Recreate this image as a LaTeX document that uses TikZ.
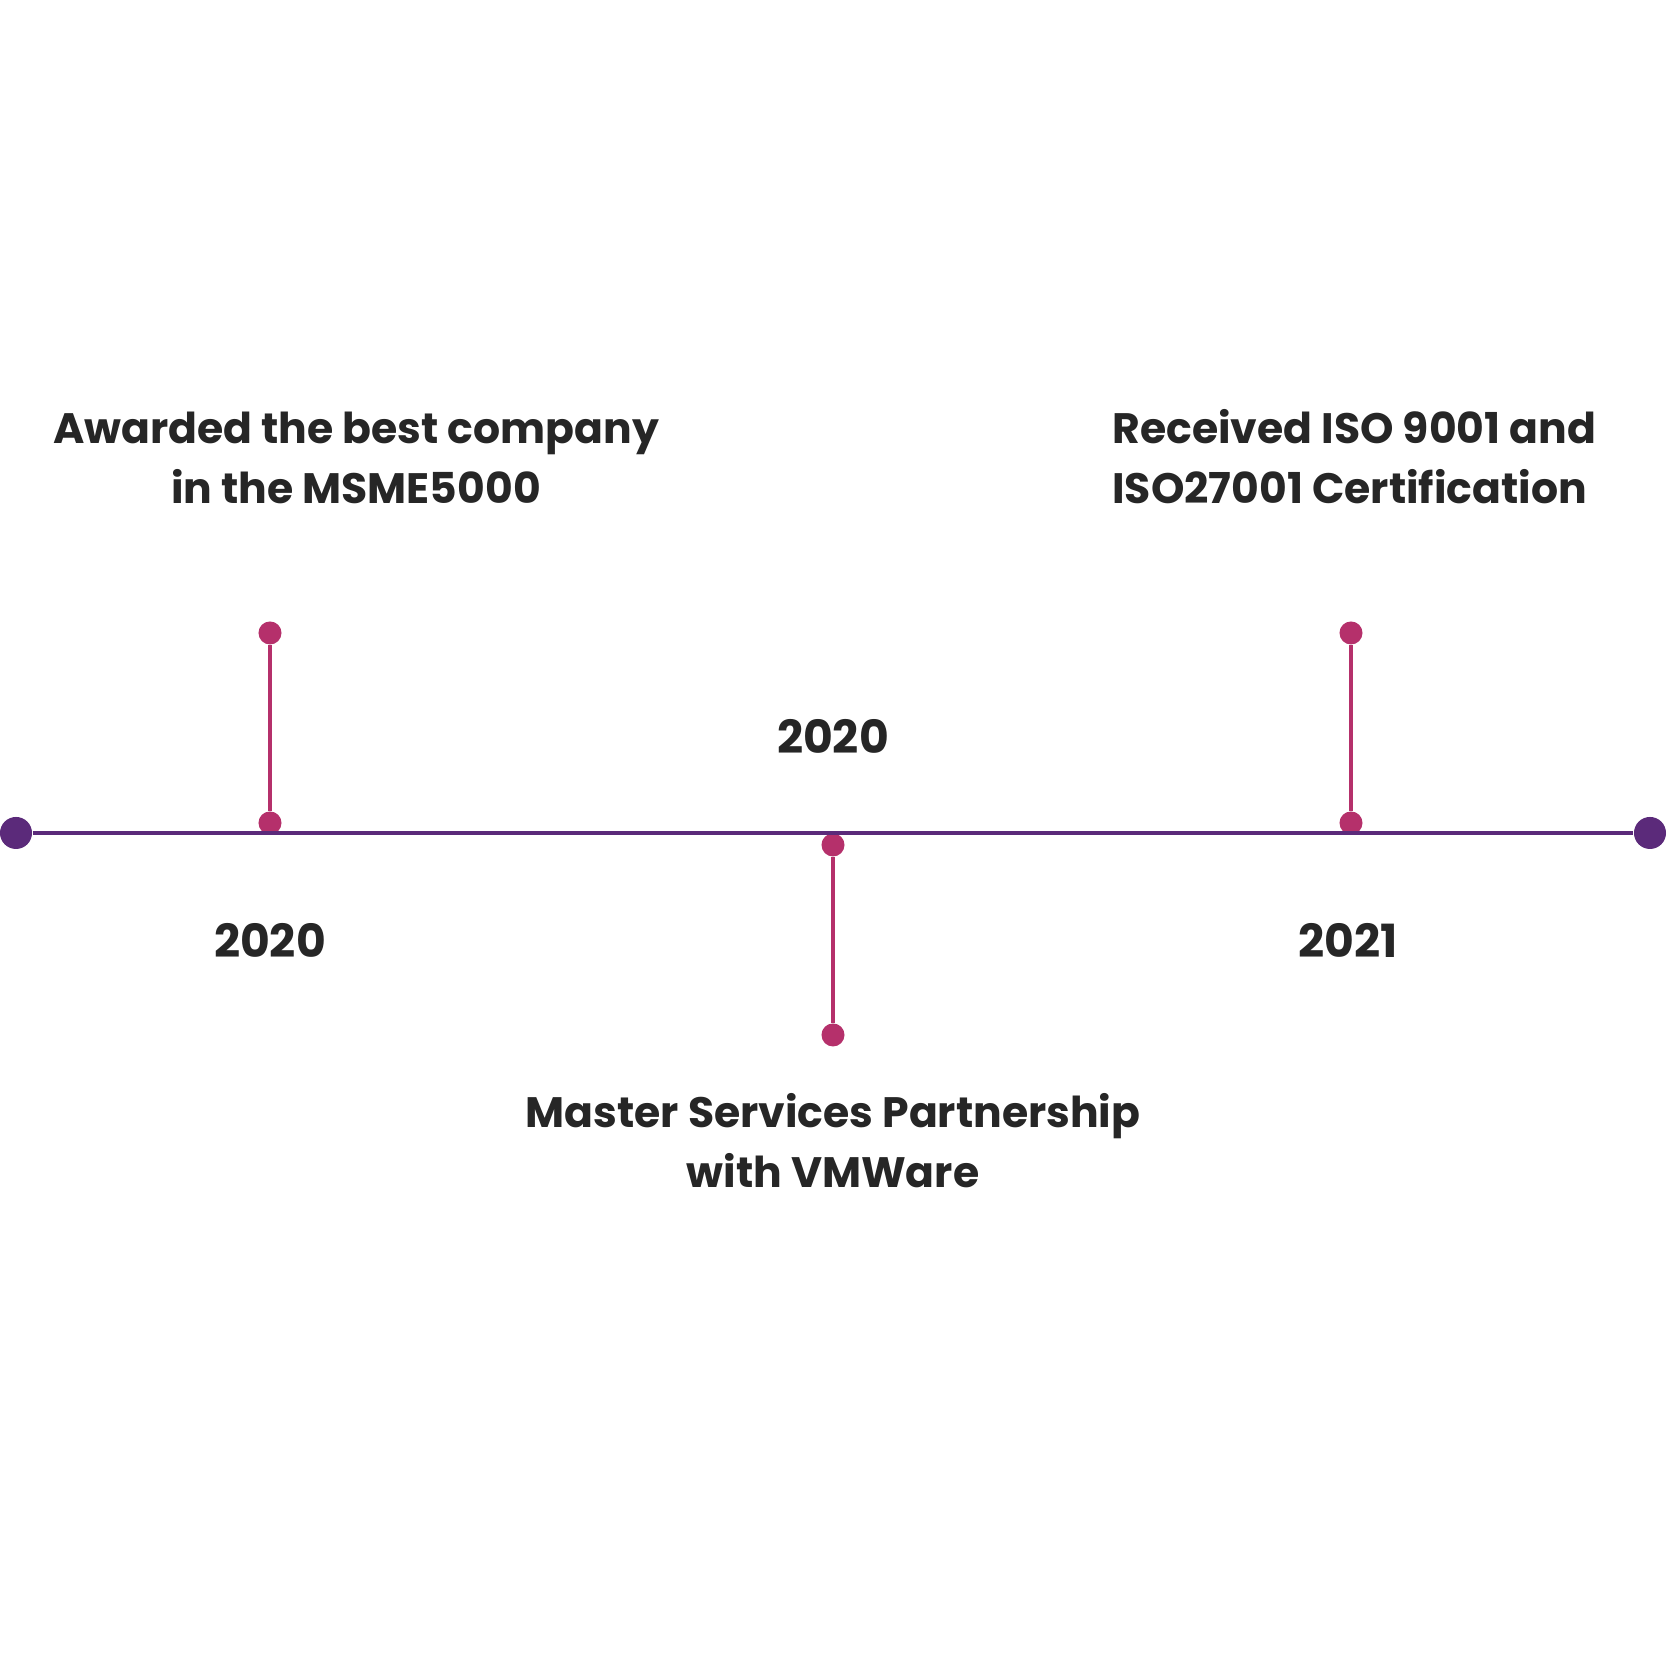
\documentclass[tikz,border=0pt]{standalone}
\usepackage{fontspec}
\setmainfont{Poppins}
\definecolor{linepurple}{HTML}{5B2A7A}
\definecolor{stempink}{HTML}{B5306B}
\definecolor{textgrey}{HTML}{262626}
\begin{document}
\begin{tikzpicture}[x=0.01cm, y=0.01cm,
  enddot/.style={circle, fill=linepurple, inner sep=0pt, minimum size=0.32cm},
  pinkdot/.style={circle, fill=stempink, inner sep=0pt, minimum size=0.23cm},
  stem/.style={stempink, line width=0.9pt},
  axis/.style={linepurple, line width=1.15pt},
  every node/.style={text=textgrey, font=\bfseries\fontsize{12.1}{17}\selectfont},
  year/.style={font=\bfseries\fontsize{13}{17}\selectfont}]
  \useasboundingbox[fill=white] (0,0) rectangle (1668,1667);
  % dots
  \node[enddot] (start) at (16,834) {};
  \node[enddot] (finish) at (1650,834) {};
  \node[pinkdot] (a1) at (270,1034) {};
  \node[pinkdot] (a2) at (270,844) {};
  \node[pinkdot] (b1) at (833,822) {};
  \node[pinkdot] (b2) at (833,632) {};
  \node[pinkdot] (c1) at (1351,1034) {};
  \node[pinkdot] (c2) at (1351,844) {};
  % stems and axis
  \draw[stem] (a1) -- (a2);
  \draw[stem] (b1) -- (b2);
  \draw[stem] (c1) -- (c2);
  \draw[axis] (start) -- (finish);
  % labels
  \node[align=center] (award) at (356,1209) {Awarded the best company\\in the MSME5000};
  \node[align=left, anchor=west] (iso) at (1100,1210) {Received ISO 9001 and\\ISO27001 Certification};
  \node[align=center] (vmware) at (833,526) {Master Services Partnership\\with VMWare};
  \node[year] (yeara) at (270,727) {2020};
  \node[year] (yearb) at (833,931) {2020};
  \node[year] (yearc) at (1348,727) {2021};
\end{tikzpicture}
\end{document}
